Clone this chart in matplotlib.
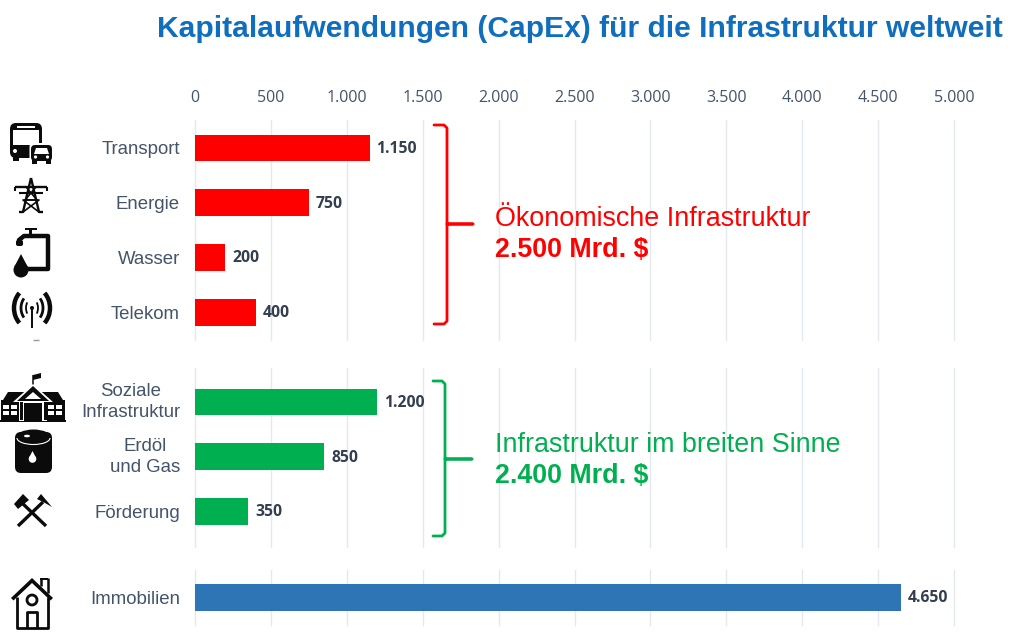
import matplotlib
matplotlib.use("Agg")
import matplotlib.pyplot as plt
from matplotlib.patches import FancyBboxPatch, Circle, Polygon, Rectangle, Arc, Ellipse
from matplotlib.transforms import ScaledTranslation

W, H = 1024, 633
RED, GREEN, BLUE = "#FF0000", "#00B050", "#2E75B6"
GRAY = "#44546A"
DARK = "#333F50"

title = "Kapitalaufwendungen (CapEx) für die Infrastruktur weltweit"
ticks = [0, 500, 1000, 1500, 2000, 2500, 3000, 3500, 4000, 4500, 5000]
tick_labels = ["0", "500", "1.000", "1.500", "2.000", "2.500", "3.000", "3.500", "4.000", "4.500", "5.000"]

econ_cats = ["Transport", "Energie", "Wasser", "Telekom"]
econ_vals = [1150, 750, 200, 400]
econ_lbls = ["1.150", "750", "200", "400"]
broad_cats = ["Soziale\nInfrastruktur", "Erdöl\nund Gas", "Förderung"]
broad_vals = [1200, 850, 350]
broad_lbls = ["1.200", "850", "350"]
real_cats = ["Immobilien"]
real_vals = [4650]
real_lbls = ["4.650"]

fig = plt.figure(figsize=(W / 100, H / 100), dpi=100, facecolor="white")
SANS = "Liberation Sans"


def panel(top, bottom, first_center, cats, vals, lbls, color, show_ticks=False):
    x0, x1 = 195, 954
    ax = fig.add_axes([x0 / W, 1 - bottom / H, (x1 - x0) / W, (bottom - top) / H])
    ax.set_xlim(0, 5000)
    # one category band is 54.7 px tall
    band = 54.7
    ax.set_ylim((bottom - first_center) / band, (top - first_center) / band)
    pos = list(range(len(cats)))
    ax.barh(pos, vals, height=0.49, color=color, zorder=3)
    for s in ax.spines.values():
        s.set_visible(False)
    ax.set_xticks(ticks)
    ax.grid(axis="x", color="#E4E8EF", lw=1, zorder=0)
    for gl in ax.get_xgridlines():
        gl.set_clip_on(False)
    ax.set_axisbelow(True)
    ax.tick_params(axis="both", length=0)
    if show_ticks:
        ax.xaxis.tick_top()
        ax.set_xticklabels(tick_labels, fontfamily="Open Sans", fontsize=11.5, color=GRAY)
        ax.tick_params(axis="x", pad=10.2)
    else:
        ax.set_xticklabels([])
    ax.set_yticks(pos)
    ax.set_yticklabels(cats, fontfamily=SANS, fontsize=13.4, color=GRAY, linespacing=1.3, ha="right")
    ax.tick_params(axis="y", pad=10.8)
    for lab in ax.get_yticklabels():
        if "\n" in lab.get_text():
            lab.set_multialignment("center")
            lab.set_transform(lab.get_transform() + ScaledTranslation(0, 3.5 / 100, fig.dpi_scale_trans))
    for p, v, l in zip(pos, vals, lbls):
        ax.annotate(l, (v, p), xytext=(7, -1), textcoords="offset pixels",
                    va="center", ha="left", fontfamily="Open Sans", fontweight="bold",
                    fontsize=11.3, color=DARK, zorder=4)
    return ax


panel(120, 340, 148, econ_cats, econ_vals, econ_lbls, RED, True)
panel(368, 547, 402, broad_cats, broad_vals, broad_lbls, GREEN)
panel(570, 625, 597.5, real_cats, real_vals, real_lbls, BLUE)

# overlay in pixel coordinates for title, brackets, notes and icons
ov = fig.add_axes([0, 0, 1, 1], zorder=10)
ov.set_xlim(0, W)
ov.set_ylim(H, 0)
ov.axis("off")
ov.patch.set_alpha(0)

ov.text(157, 29, title, fontfamily=SANS, fontweight="bold", fontsize=21.65,
        color="#0F6FBE", va="center", ha="left")


def bracket(x0, x1, xm, y0, ym, y1, color):
    ov.plot([x0, x1 - 3, x1, x1, xm, x1, x1, x1 - 3, x0],
            [y0, y0, y0 + 3, ym, ym, ym, y1 - 3, y1, y1],
            color=color, lw=2, solid_joinstyle="round", solid_capstyle="round")


bracket(434, 447, 473, 125, 224, 324, RED)
bracket(433, 445, 472, 381, 459, 536, GREEN)

ov.text(495, 219, "Ökonomische Infrastruktur", fontfamily=SANS, fontsize=19.4, color=RED, va="center")
ov.text(495, 250, "2.500 Mrd. $", fontfamily=SANS, fontsize=19.3, fontweight="bold", color=RED, va="center")
ov.text(495, 445, "Infrastruktur im breiten Sinne", fontfamily=SANS, fontsize=19.4, color=GREEN, va="center")
ov.text(495, 476, "2.400 Mrd. $", fontfamily=SANS, fontsize=19.3, fontweight="bold", color=GREEN, va="center")

K = "#0B0B0B"


def rrect(x, y, w, h, r=3, fc=K, z=11):
    ov.add_patch(FancyBboxPatch((x + r, y + r), w - 2 * r, h - 2 * r,
                                boxstyle=f"round,pad={r},rounding_size={r}", fc=fc, ec="none", zorder=z))


def rect(x, y, w, h, fc=K, z=11):
    ov.add_patch(Rectangle((x, y), w, h, fc=fc, ec="none", zorder=z))


def poly(pts, fc=K, ec="none", lw=0, z=11, closed=True):
    ov.add_patch(Polygon(pts, closed=closed, fc=fc, ec=ec, lw=lw, zorder=z))


def line(xs, ys, lw=1.5, c=K, z=11):
    ov.plot(xs, ys, color=c, lw=lw, zorder=z, solid_capstyle="butt")


def circ(x, y, r, fc=K, z=11):
    ov.add_patch(Circle((x, y), r, fc=fc, ec="none", zorder=z))


# bus and car
rrect(10, 123, 32, 35, 6)
rect(13, 130, 26, 15, "white", 12)
rect(17, 126, 18, 1.6, "white", 12)
circ(15, 151, 2, "white", 12)
rect(13, 157, 6, 4)
rrect(29.5, 143, 24, 22, 4, "white", 12)
rrect(31, 145, 21, 16, 4, K, 13)
poly([(36, 148), (47, 148), (49, 154), (34, 154)], fc="white", z=14)
circ(35.5, 157, 1.6, "white", 14)
circ(47.5, 157, 1.6, "white", 14)
rect(32, 160, 5, 4, K, 13)
rect(46, 160, 5, 4, K, 13)

# power tower
line([31, 23, 19], [178, 212, 212], 1.7)
line([31, 39, 43], [178, 212, 212], 1.7)
line([15, 47], [187, 187], 1.7)
line([19, 43], [193, 193], 1.5)
line([26, 37, 23, 39], [187, 200, 200, 212], 1.2)
line([36, 25, 39, 23], [187, 200, 200, 212], 1.2)
line([15, 15], [187, 191], 1.5)
line([47, 47], [187, 191], 1.5)

# tap with drop
line([19, 19, 24, 48, 48, 27], [245, 240, 236, 236, 269, 269], 3.2)
rect(29, 229, 3, 8)
rect(25, 227.5, 12, 2.5)
rrect(16, 240, 7, 6, 2)
circ(21, 270, 7.5)
poly([(21, 254), (14.2, 267), (27.8, 267)])

# antenna
for r, lw in [(6, 1.3), (11, 2), (18, 3.2)]:
    ov.add_patch(Arc((32, 308), 2 * r, 2 * r + 6, theta1=130, theta2=230, ec=K, lw=lw, zorder=11))
    ov.add_patch(Arc((32, 308), 2 * r, 2 * r + 6, theta1=-50, theta2=50, ec=K, lw=lw, zorder=11))
circ(32, 308, 2)
line([32, 32], [308, 328], 1.4)
line([33, 39], [340, 340], 1.0, "#999999")

# school
rect(1, 400, 64, 20)
poly([(3, 400), (8, 392), (58, 392), (63, 400)])
rect(0, 419.5, 66, 2.5)
poly([(33, 384), (13, 402), (53, 402)], fc="white", z=12)
poly([(33, 386), (17, 401), (49, 401)], z=13)
poly([(33, 392), (25, 399), (41, 399)], fc="white", z=14)
rect(19, 401, 28, 20, "white", 12)
rect(24, 403, 18, 18, K, 13)
rect(20, 402, 2.5, 18, K, 13)
rect(44, 402, 2.5, 18, K, 13)
line([33, 33], [375, 385], 1.1)
poly([(33, 375), (41, 373), (41, 378), (33, 380)])
for x in (3, 11, 48, 56):
    for y in (405, 411):
        rect(x, y, 6, 3.5, "white", 12)

# barrel
rrect(15, 432, 37, 41, 6)
ov.add_patch(Ellipse((33.5, 438), 36, 17, fc=K, ec="none", zorder=11))
ov.add_patch(Arc((33.5, 438), 33, 13, theta1=0, theta2=180, ec="white", lw=0.8, zorder=12))
ov.add_patch(Ellipse((27, 436), 6, 2.6, fc="white", ec="none", zorder=13))
circ(32.5, 459, 3.8, "white", 13)
poly([(32.5, 451), (28.9, 458), (36.1, 458)], fc="white", z=13)

# crossed hammers
line([21, 46], [502, 526], 2.4)
line([43, 18], [502, 526], 2.4)
poly([(14, 504), (23, 494), (29, 500), (18, 509)])
poly([(37, 499), (41, 494), (52, 507), (45, 503)])

# house
poly([(32, 578), (11, 598), (13.5, 600.5), (32, 583), (50.5, 600.5), (53, 598)])
rect(40, 578, 8, 2)
line([41, 41], [578, 586], 1.8)
line([47.5, 47.5], [578, 593], 1.8)
line([17, 17, 48, 48], [597, 628, 628, 597], 2)
ov.add_patch(Circle((32, 600), 5, fc="white", ec=K, lw=2, zorder=11))
line([27, 27, 37, 37], [628, 612, 612, 628], 2)

fig.savefig("out.png", dpi=100)
